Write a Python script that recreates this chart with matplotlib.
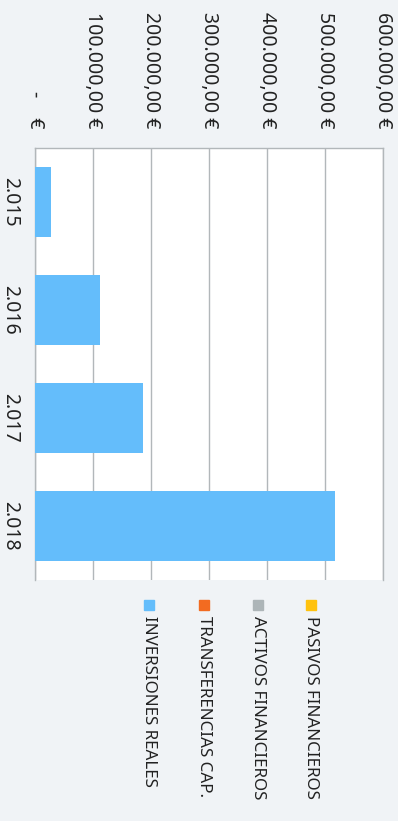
import matplotlib.pyplot as plt
from matplotlib.patches import Rectangle
from matplotlib.ticker import FixedLocator, FixedFormatter

plt.rcParams['font.family'] = ['Noto Sans', 'DejaVu Sans']

# data
years = ["2.015", "2.016", "2.017", "2.018"]
inversiones_reales = [27000, 112000, 187000, 517000]
tick_values = [0, 100000, 200000, 300000, 400000, 500000, 600000]
tick_labels = ["-    €", "100.000,00 €", "200.000,00 €", "300.000,00 €",
               "400.000,00 €", "500.000,00 €", "600.000,00 €"]
legend_names = ["INVERSIONES REALES", "TRANSFERENCIAS CAP.",
                "ACTIVOS FINANCIEROS", "PASIVOS FINANCIEROS"]
legend_colors = ["#64BDFB", "#F26B21", "#ADB5B8", "#FFC20E"]

bg = "#F0F3F6"
grid_c = "#B2B7BA"
text_c = "#222222"

W, H = 398, 821
fig = plt.figure(figsize=(W / 100, H / 100), dpi=100, facecolor=bg)
ax = fig.add_axes([35 / W, 1 - 580 / H, (383 - 35) / W, (580 - 148) / H])
ax.set_facecolor("white")

pos = range(len(years))
ax.barh(pos, inversiones_reales, height=0.64, color=legend_colors[0], zorder=3)

ax.set_xlim(0, 600000)
ax.set_ylim(len(years) - 0.5, -0.5)

ax.xaxis.tick_top()
ax.xaxis.set_major_locator(FixedLocator(tick_values))
ax.xaxis.set_major_formatter(FixedFormatter(tick_labels))
ax.tick_params(axis="x", length=0, pad=14, labelsize=14, colors=text_c)
for lab in ax.get_xticklabels():
    lab.set_rotation(-90)
    lab.set_ha("center")
    lab.set_va("bottom")

ax.set_yticks(list(pos))
ax.set_yticklabels(years)
ax.tick_params(axis="y", length=0, pad=11, labelsize=14, colors=text_c)
for lab in ax.get_yticklabels():
    lab.set_rotation(-90)
    lab.set_ha("right")
    lab.set_va("center")

ax.grid(axis="x", color=grid_c, linewidth=1, zorder=1)
ax.grid(axis="y", visible=False)
for side in ["top", "left", "right"]:
    ax.spines[side].set_color(grid_c)
    ax.spines[side].set_linewidth(1)
ax.spines["bottom"].set_visible(False)

# legend, drawn rotated like the chart
leg_x = [149, 204, 258, 311]
for name, col, x in zip(legend_names, legend_colors, leg_x):
    fig.add_artist(Rectangle(((x - 5) / W, 1 - 610 / H), 10 / W, 10 / H,
                             transform=fig.transFigure, color=col))
    fig.text(x / W, 1 - 616 / H, name, rotation=-90, ha="center", va="top",
             fontsize=12.2, color=text_c)

fig.savefig("out.png", dpi=100, facecolor=bg)
